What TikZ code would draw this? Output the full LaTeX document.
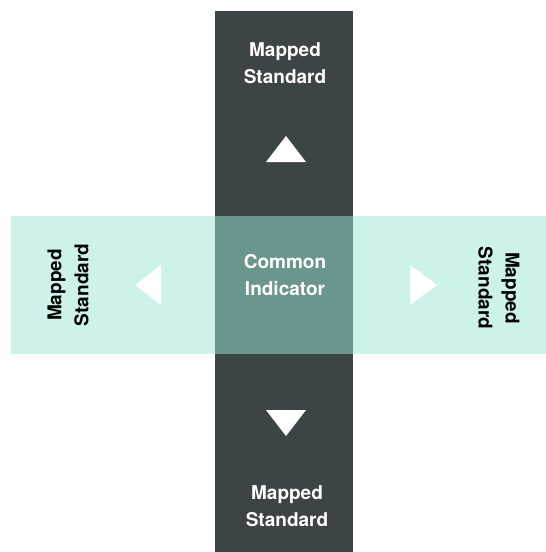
\documentclass[tikz,border=0pt]{standalone}
\usepackage{fontspec}
\setmainfont{TeX Gyre Heros}
\definecolor{darkbar}{HTML}{3C4446}
\definecolor{lightbar}{HTML}{CCF2EA}
\definecolor{midbox}{HTML}{6A968F}
\tikzset{
  lbl/.style={font=\bfseries\fontsize{19}{27}\selectfont, align=center, inner sep=0pt},
  tri/.style={fill=white, draw=none}
}
\begin{document}
\begin{tikzpicture}[x=1pt,y=-1pt]
\useasboundingbox (0,0) rectangle (546,552);
\fill[darkbar] (215,11) rectangle (353,552);
\fill[lightbar] (11,216) rectangle (546,354);
\fill[midbox] (215,216) rectangle (353,354);
\node[lbl, text=white] (top) at (285,63) {Mapped\\Standard};
\node[lbl, text=white] (bot) at (287,506) {Mapped\\Standard};
\node[lbl, text=white] (mid) at (285,275) {Common\\Indicator};
\node[lbl, text=black, rotate=90] (left) at (68,285) {Mapped\\Standard};
\node[lbl, text=black, rotate=-90] (right) at (499,288) {Mapped\\Standard};
\fill[tri] (286,136) -- (306,162) -- (266,162) -- cycle;
\fill[tri] (266,410) -- (306,410) -- (286,436) -- cycle;
\fill[tri] (135,285) -- (161,265) -- (161,305) -- cycle;
\fill[tri] (437,285) -- (410,265) -- (410,305) -- cycle;
\end{tikzpicture}
\end{document}
